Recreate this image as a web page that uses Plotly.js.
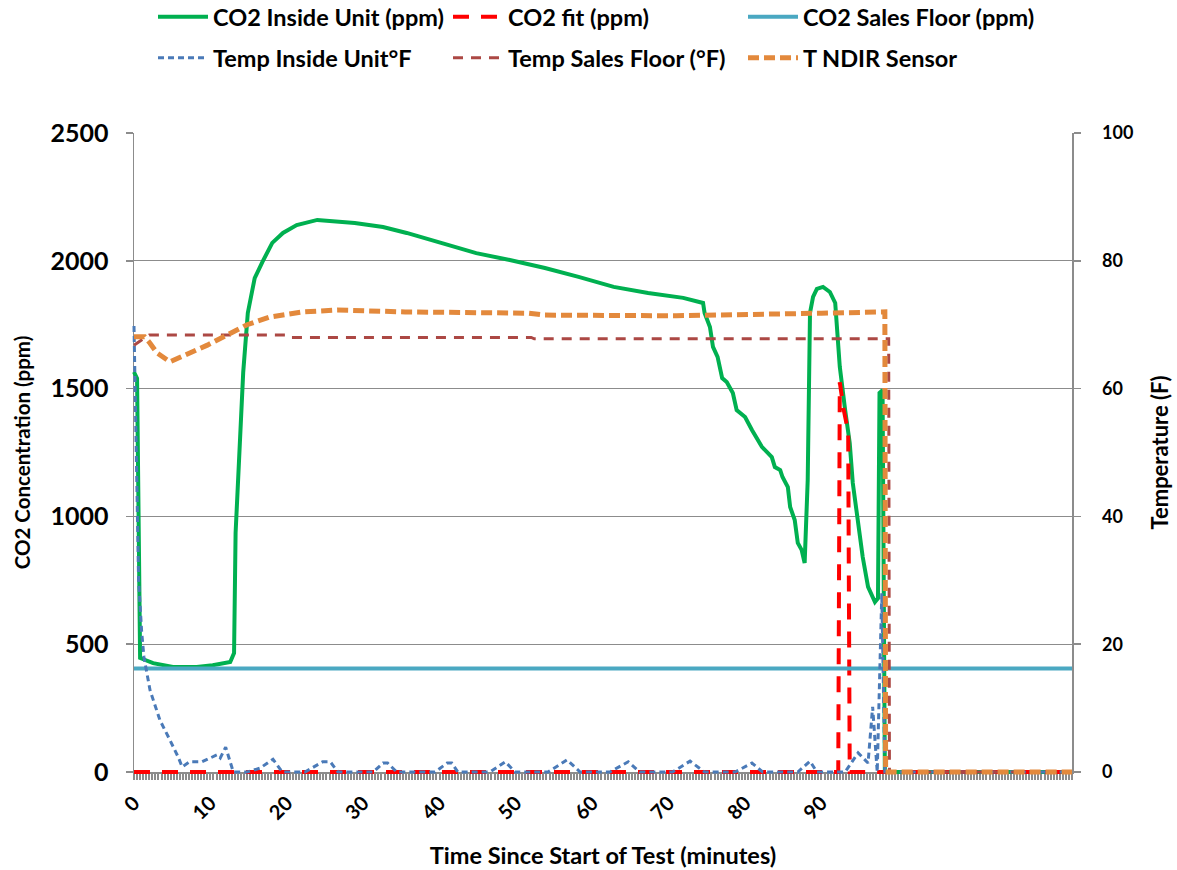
<!DOCTYPE html>
<html>
<head>
<meta charset="utf-8">
<script src="https://cdn.plot.ly/plotly-3.0.1.min.js"></script>
<style>
  html, body { margin: 0; padding: 0; background: #ffffff; }
  #chart { width: 1177px; height: 870px; }
</style>
</head>
<body>
<div id="chart"></div>
<script>
// Time axis (minutes since start of test) and readings for each series

// CO2 inside the unit (ppm)
const co2UnitT = [0, 0.4, 0.6, 0.8, 2.5, 5.1, 8.2, 10.3, 12.6, 13.1, 13.3, 13.9, 14.3, 14.9, 15.8, 16.8, 18.1, 19.5, 21.3, 24.0, 26.7, 28.9, 32.6, 35.7, 40.2, 44.8, 49.2, 53.8, 58.2, 62.8, 67.3, 71.9, 74.5, 74.7, 75.4, 75.8, 76.4, 77.0, 77.6, 78.4, 78.9, 80.0, 80.9, 81.9, 82.2, 83.5, 83.9, 84.6, 84.9, 85.6, 85.9, 86.5, 86.9, 87.4, 87.8, 88.2, 88.5, 88.9, 89.4, 90.2, 91.1, 91.8, 92.1, 92.4, 93.1, 93.7, 94.1, 94.8, 95.4, 96.1, 97.0, 97.4, 97.6, 98.0, 98.3, 122.8];
const co2UnitV = [1565, 1540, 1000, 446, 426, 411, 411, 418, 430, 465, 935, 1326, 1565, 1796, 1932, 1995, 2070, 2109, 2140, 2160, 2152, 2148, 2132, 2109, 2070, 2030, 2003, 1972, 1937, 1898, 1874, 1855, 1835, 1796, 1741, 1663, 1624, 1541, 1526, 1483, 1416, 1389, 1338, 1287, 1272, 1232, 1193, 1181, 1154, 1115, 1037, 986, 896, 869, 818, 1142, 1796, 1859, 1890, 1898, 1878, 1835, 1702, 1585, 1416, 1287, 1131, 986, 841, 724, 665, 680, 1483, 1494, 0, 0];

// CO2 decay fit (ppm)
const co2FitT = [0, 92.2, 92.4, 92.9, 93.5, 93.7, 122.8];
const co2FitV = [0, 0, 1525, 1420, 1330, 0, 0];

// CO2 on the sales floor (ppm)
const co2FloorT = [0, 122.8];
const co2FloorV = [405, 405];

// Temperature inside the unit (°F)
const tempUnitT = [0, 0.2, 0.4, 0.6, 1.0, 1.3, 2.1, 3.4, 4.7, 5.8, 6.3, 7.3, 8.9, 10.9, 11.3, 12.0, 13.0, 14.8, 16.5, 18.2, 19.4, 22.4, 24.7, 25.7, 26.7, 31.3, 32.6, 33.2, 34.4, 39.4, 41.0, 41.6, 42.4, 46.6, 48.6, 49.9, 54.2, 56.7, 58.4, 62.3, 64.7, 66.2, 70.5, 72.8, 74.7, 78.7, 80.9, 82.3, 86.9, 88.5, 89.4, 93.1, 94.8, 96.1, 96.7, 97.3, 97.9, 98.3, 122.8];
const tempUnitV = [69.8, 58, 42, 30, 22, 18, 12.8, 8.1, 5, 2.3, 0.8, 1.6, 1.6, 2.7, 2.2, 3.9, 0, 0, 0.6, 2.0, 0, 0, 1.6, 1.6, 0, 0, 1.4, 1.4, 0, 0, 1.4, 1.4, 0, 0, 1.6, 0, 0, 1.9, 0, 0, 1.6, 0, 0, 1.7, 0, 0, 1.4, 0, 0, 1.7, 0, 0, 3.0, 1.4, 10.2, 0, 28, 0, 0];

// Temperature on the sales floor (°F)
const tempFloorT = [0, 2.0, 20.2, 20.6, 52.0, 52.4, 98.8, 98.9, 122.8];
const tempFloorV = [66.8, 68.4, 68.4, 68.0, 68.0, 67.8, 67.8, 0, 0];

// NDIR sensor temperature (°F)
const tempNdirT = [0, 1.4, 2.1, 3.0, 4.7, 6.9, 9.6, 12.2, 14.8, 17.8, 22.1, 26.6, 35.5, 51.7, 53.8, 71.0, 79.0, 90.0, 98.3, 98.4, 122.8];
const tempNdirV = [68.1, 68.1, 67.1, 65.6, 64.2, 65.3, 66.8, 68.4, 70.0, 71.2, 72.0, 72.3, 72.0, 71.8, 71.5, 71.4, 71.5, 71.8, 72.0, 0, 0];

// Labelled minutes on the time axis
const timeTicks = [0, 10, 20, 30, 40, 50, 60, 70, 80, 90];
const co2Ticks = [0, 500, 1000, 1500, 2000, 2500];
const tempTicks = [0, 20, 40, 60, 80, 100];

const FONT = 'Lato, "Open Sans", sans-serif';
const AXIS_GREY = '#8c8c8c';

const traces = [
  { x: co2UnitT, y: co2UnitV, name: 'CO2 Inside Unit (ppm)', type: 'scatter', mode: 'lines',
    line: { color: '#00b050', width: 4 }, yaxis: 'y', legend: 'legend', cliponaxis: false },
  { x: co2FitT, y: co2FitV, name: 'CO2 fit (ppm)', type: 'scatter', mode: 'lines',
    line: { color: '#ff0000', width: 4, dash: '16px,12px' }, yaxis: 'y', legend: 'legend', cliponaxis: false },
  { x: co2FloorT, y: co2FloorV, name: 'CO2 Sales Floor (ppm)', type: 'scatter', mode: 'lines',
    line: { color: '#4aa8c2', width: 4 }, yaxis: 'y', legend: 'legend', cliponaxis: false },
  { x: tempUnitT, y: tempUnitV, name: 'Temp Inside Unit°F', type: 'scatter', mode: 'lines',
    line: { color: '#4a7ab8', width: 3, dash: '6px,4px' }, yaxis: 'y2', legend: 'legend2', cliponaxis: false },
  { x: tempFloorT, y: tempFloorV, name: 'Temp Sales Floor (°F)', type: 'scatter', mode: 'lines',
    line: { color: '#ac4844', width: 3, dash: '10px,8px' }, yaxis: 'y2', legend: 'legend2', cliponaxis: false },
  { x: tempNdirT, y: tempNdirV, name: 'T NDIR Sensor', type: 'scatter', mode: 'lines',
    line: { color: '#e3893c', width: 5, dash: '11px,5px' }, yaxis: 'y2', legend: 'legend2', cliponaxis: false }
];

const legendBase = {
  orientation: 'h',
  xref: 'container', yref: 'container',
  xanchor: 'left', yanchor: 'middle',
  x: 153 / 1177,
  entrywidth: 230, entrywidthmode: 'pixels',
  itemwidth: 50,
  bgcolor: 'rgba(0,0,0,0)',
  font: { family: FONT, size: 23.5, color: '#000000', weight: 'bold' }
};

const layout = {
  width: 1177, height: 870,
  paper_bgcolor: '#ffffff', plot_bgcolor: '#ffffff',
  margin: { l: 134, r: 105, t: 133, b: 98, pad: 0 },
  font: { family: FONT, color: '#000000' },
  showlegend: true,
  legend: Object.assign({}, legendBase, { y: 1 - 17 / 870 }),
  legend2: Object.assign({}, legendBase, { y: 1 - 58 / 870 }),
  xaxis: {
    range: [0, 122.8],
    layer: 'below traces',
    tickmode: 'array', tickvals: timeTicks, ticktext: timeTicks.map(String),
    tickangle: -45,
    ticks: 'outside', ticklen: 6, tickwidth: 2, tickcolor: AXIS_GREY,
    minor: { tickmode: 'linear', tick0: 0, dtick: 0.4, ticks: 'outside', ticklen: 6, tickwidth: 2, tickcolor: AXIS_GREY, showgrid: false },
    ticklabelstandoff: 4,
    showline: true, linecolor: AXIS_GREY, linewidth: 1.5,
    showgrid: false, zeroline: false,
    tickfont: { family: FONT, size: 20, weight: 'bold', color: '#000000' },
    title: { text: 'Time Since Start of Test (minutes)', standoff: 24,
             font: { family: FONT, size: 23.5, weight: 'bold', color: '#000000' } }
  },
  yaxis: {
    range: [0, 2500], tickmode: 'array', tickvals: co2Ticks,
    layer: 'below traces',
    ticks: 'outside', ticklen: 7, tickcolor: AXIS_GREY, tickwidth: 1.5,
    ticklabelstandoff: 12,
    showline: true, linecolor: AXIS_GREY, linewidth: 1.5,
    showgrid: true, gridcolor: AXIS_GREY, gridwidth: 1.2, zeroline: false,
    tickfont: { family: FONT, size: 25, weight: 'bold', color: '#000000' },
    title: { text: 'CO2 Concentration (ppm)', standoff: 14,
             font: { family: FONT, size: 20.5, weight: 'bold', color: '#000000' } }
  },
  yaxis2: {
    overlaying: 'y', side: 'right', anchor: 'x',
    range: [0, 100], tickmode: 'array', tickvals: tempTicks,
    layer: 'below traces',
    ticks: 'outside', ticklen: 7, tickcolor: AXIS_GREY, tickwidth: 1.5,
    ticklabelstandoff: 18,
    showline: true, linecolor: AXIS_GREY, linewidth: 1.5,
    showgrid: false, zeroline: false,
    tickfont: { family: FONT, size: 18, weight: 'bold', color: '#000000' },
    title: { text: 'Temperature (F)', standoff: 20,
             font: { family: FONT, size: 22, weight: 'bold', color: '#000000' } }
  }
};

Plotly.newPlot('chart', traces, layout, { displayModeBar: false, staticPlot: true }).then(function (gd) {
  // Let lines lying on the zero baseline show their full stroke width
  gd.querySelectorAll('.cartesianlayer [clip-path]').forEach(function (el) {
    el.removeAttribute('clip-path');
  });
});
</script>
</body>
</html>
